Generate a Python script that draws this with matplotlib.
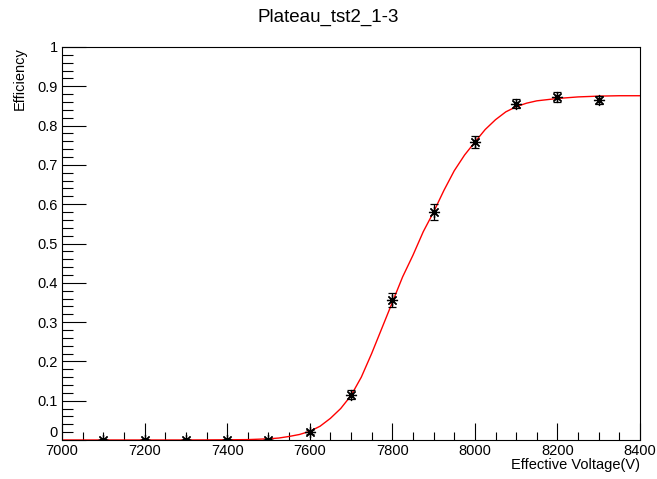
# Plateau efficiency curve, ROOT-like style
import numpy as np
import matplotlib.pyplot as plt
from matplotlib.ticker import MultipleLocator

plt.rcParams['font.family'] = ['Liberation Sans', 'DejaVu Sans']

# measured points
voltage = [7100, 7200, 7300, 7400, 7500, 7600, 7700, 7800, 7900, 8000, 8100, 8200, 8300]
efficiency = [0.0, 0.0, 0.0, 0.0, 0.0, 0.02, 0.115, 0.357, 0.580, 0.758, 0.856, 0.873, 0.865]
eff_err = [0.002, 0.002, 0.002, 0.002, 0.002, 0.006, 0.011, 0.018, 0.020, 0.016, 0.012, 0.012, 0.010]

# fit curve
fit_v = [7000, 7100, 7200, 7300, 7400, 7450, 7500, 7525, 7550, 7575, 7600, 7625, 7650,
         7675, 7700, 7725, 7750, 7775, 7800, 7825, 7850, 7875, 7900, 7925, 7950, 7975,
         8000, 8025, 8050, 8075, 8100, 8125, 8150, 8200, 8250, 8300, 8350, 8400]
fit_eff = [0.0, 0.0, 0.0, 0.0, 0.0005, 0.001, 0.003, 0.005, 0.009, 0.014, 0.022, 0.035, 0.055,
           0.08, 0.113, 0.16, 0.22, 0.285, 0.35, 0.415, 0.47, 0.53, 0.58, 0.635, 0.685, 0.725,
           0.758, 0.79, 0.815, 0.835, 0.848, 0.857, 0.863, 0.869, 0.873, 0.875, 0.876, 0.876]

y_labels = ['0', '0.1', '0.2', '0.3', '0.4', '0.5', '0.6', '0.7', '0.8', '0.9', '1']

fig = plt.figure(figsize=(6.57, 4.79), dpi=100)
ax = fig.add_axes([62 / 657, 39 / 479, 578 / 657, 393 / 479])

ax.plot(fit_v, fit_eff, color='#ff0000', lw=1.0, zorder=2)
ax.errorbar(voltage, efficiency, yerr=eff_err, fmt='none', ecolor='black',
            elinewidth=0.9, capsize=3, capthick=0.9, zorder=3)
ax.plot(voltage, efficiency, ls='none', marker=(8, 2, 0), ms=8, mew=0.9,
        color='black', zorder=4)

ax.set_xlim(7000, 8400)
ax.set_ylim(0, 1)
ax.xaxis.set_major_locator(MultipleLocator(200))
ax.xaxis.set_minor_locator(MultipleLocator(50))
ax.yaxis.set_minor_locator(MultipleLocator(0.02))
ax.set_yticks(np.arange(0, 1.01, 0.1))
ax.set_yticklabels(y_labels)
# ROOT puts the "0" just above the corner
ax.get_yticklabels()[0].set_va('bottom')

ax.tick_params(axis='both', which='both', direction='in', top=False, right=False,
               labelsize=10.5, width=0.8, colors='black')
ax.tick_params(axis='x', which='major', length=12, pad=3)
ax.tick_params(axis='x', which='minor', length=6)
ax.tick_params(axis='y', which='major', length=17, pad=3)
ax.tick_params(axis='y', which='minor', length=8)
for s in ax.spines.values():
    s.set_linewidth(0.8)

ax.set_xlabel('Effective Voltage(V)', fontsize=10.5, loc='right', labelpad=0)
ax.set_ylabel('Efficiency', fontsize=10.5, loc='top', labelpad=8)
fig.text(0.5, 0.963, 'Plateau_tst2_1-3', ha='center', va='center', fontsize=13.5)

fig.savefig('out.png', dpi=100)
